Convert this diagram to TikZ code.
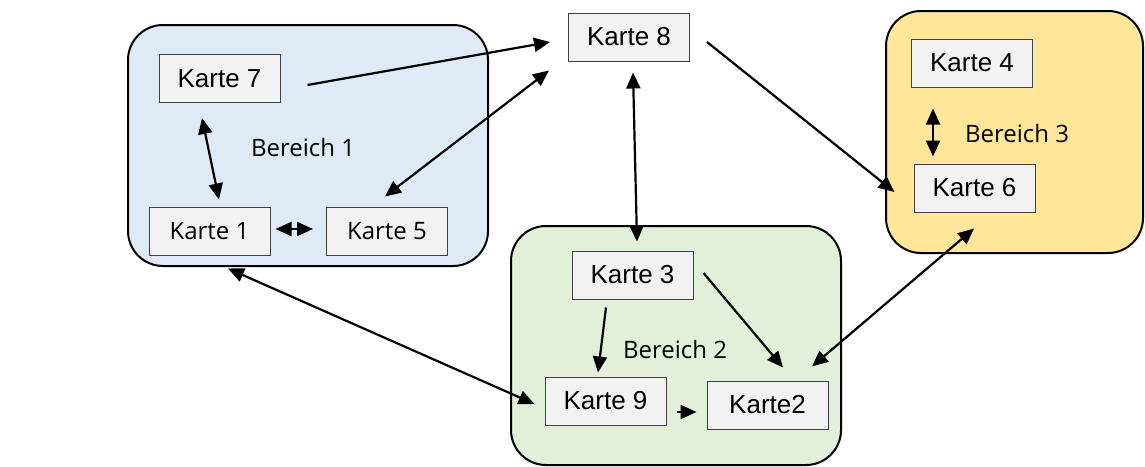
\documentclass[tikz,border=0pt]{standalone}
\usepackage{fontspec}
\setmainfont{Liberation Sans}
\newfontfamily\segoe{Open Sans}
\usetikzlibrary{arrows.meta, calc}

\definecolor{bereichblau}{HTML}{DEEBF7}
\definecolor{bereichgruen}{HTML}{E2F0D9}
\definecolor{bereichgelb}{HTML}{FFE699}
\definecolor{kartengrau}{HTML}{F2F2F2}
\definecolor{kartenrand}{HTML}{404040}

\tikzset{
	karte/.style = {draw = kartenrand, fill = kartengrau, line width = 1pt, minimum width = 121pt, minimum height = 48pt, inner sep = 0pt, font = \fontsize{26}{30}\selectfont},
	kartesegoe/.style = {karte, font = \segoe\fontsize{24}{28}\selectfont},
	bereich/.style = {draw, line width = 2pt, rounded corners = 35pt},
	bereichtext/.style = {font = \segoe\fontsize{24}{28}\selectfont},
	pfeil/.style = {line width = 2.2pt, -{Triangle[length = 16pt, width = 14pt]}},
	doppelpfeil/.style = {line width = 2.2pt, {Triangle[length = 16pt, width = 14pt]}-{Triangle[length = 16pt, width = 14pt]}},
}

\begin{document}
\begin{tikzpicture}[x = 1pt, y = -1pt]
	\clip (0,0) rectangle (1145,466);
	\useasboundingbox (0,0) rectangle (1145,466);
	
	% Bereiche
	\draw [bereich, fill = bereichblau] (128,25) rectangle (488,266);
	\draw [bereich, fill = bereichgruen] (511,226) rectangle (841,465);
	\draw [bereich, fill = bereichgelb] (886,11) rectangle (1143,253);
	
	\node [bereichtext] (b1) at (303,147) {Bereich 1};
	\node [bereichtext] (b2) at (675,349) {Bereich 2};
	\node [bereichtext] (b3) at (1017,133) {Bereich 3};
	
	% Karten
	\node [karte] (k7) at (219.5,78.5) {Karte 7};
	\node [kartesegoe] (k1) at (209.5,231) {Karte 1};
	\node [kartesegoe] (k5) at (387,231) {Karte 5};
	\node [karte] (k8) at (629,37) {Karte 8};
	\node [karte] (k4) at (972,63) {Karte 4};
	\node [karte] (k6) at (974.5,188) {Karte 6};
	\node [karte] (k3) at (632.5,275) {Karte 3};
	\node [karte] (k9) at (605.5,401) {Karte 9};
	\node [karte] (k2) at (767.5,405) {Karte2};
	
	% Verbindungen
	\draw [pfeil] ([shift = {(27,6.5)}]k7.east) -- ([shift = {(-18,5)}]k8.west);
	\draw [doppelpfeil] ([shift = {(-2,-10)}]k5.north) -- ([shift = {(-19,9)}]k8.south west);
	\draw [doppelpfeil] ([shift = {(-17.5,15)}]k7.south) -- ([shift = {(9.5,-7)}]k1.north);
	\draw [doppelpfeil] ([shift = {(5,-2)}]k1.east) -- ([shift = {(-13,-2)}]k5.west);
	\draw [doppelpfeil] ([shift = {(18.5,13)}]k1.south) -- ([shift = {(-10,3)}]k9.west);
	\draw [doppelpfeil] ([shift = {(4,11)}]k8.south) -- ([shift = {(4.5,-9)}]k3.north);
	\draw [pfeil] ([shift = {(17,5)}]k8.east) -- ([shift = {(-19,4)}]k6.west);
	\draw [doppelpfeil] ([shift = {(-39,21)}]k4.south) -- ([shift = {(-41.5,-7)}]k6.north);
	\draw [doppelpfeil] ([shift = {(-0.5,16)}]k6.south) -- ([shift = {(44.5,-14)}]k2.north);
	\draw [pfeil] ([shift = {(10,-2)}]k3.east) -- ([shift = {(15.5,-13)}]k2.north);
	\draw [pfeil] ([shift = {(-26.5,8)}]k3.south) -- ([shift = {(-7.5,-4)}]k9.north);
	\draw [pfeil] ([shift = {(10,11)}]k9.east) -- ([shift = {(-10,7)}]k2.west);
\end{tikzpicture}
\end{document}
